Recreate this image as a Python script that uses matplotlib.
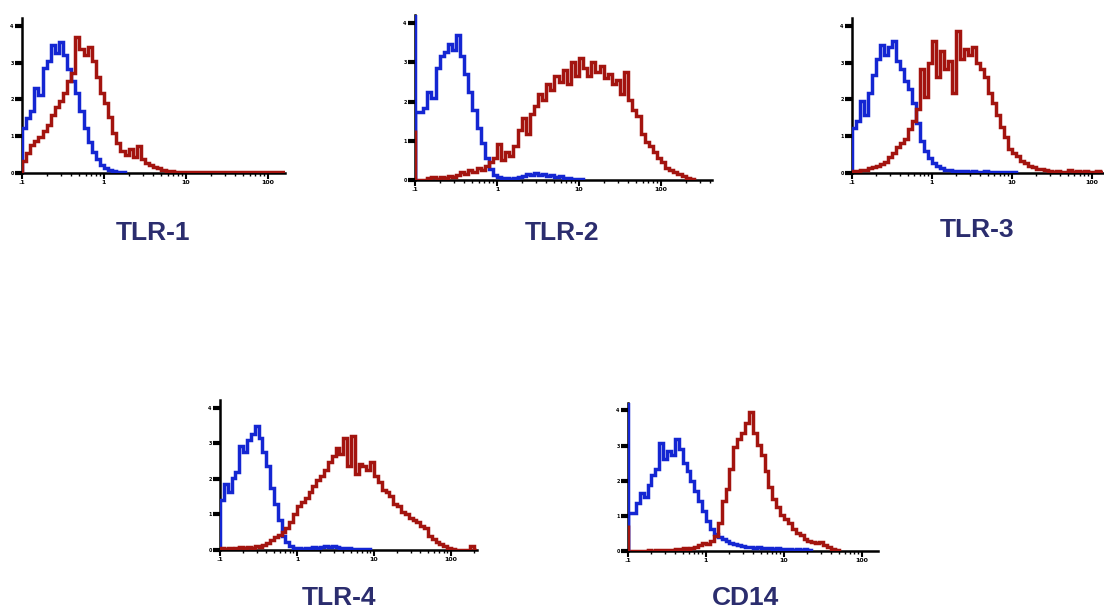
import numpy as np
import matplotlib
matplotlib.use("Agg")
import matplotlib.pyplot as plt

# flow histograms, counts per 0.05-decade bin starting at 0.1 (log10 = -1)
BIN = 0.05

tlr1_blue = [45, 55, 62, 85, 78, 105, 112, 128, 120, 131, 118, 104, 92, 80, 62, 45,
             31, 21, 14, 8, 5, 3, 2, 1, 1]
tlr1_red = [12, 20, 28, 32, 36, 42, 48, 58, 66, 72, 80, 92, 100, 136, 124, 118, 126,
            112, 96, 80, 70, 56, 40, 30, 22, 18, 24, 16, 27, 14, 10, 8, 6, 5, 3, 2, 2,
            1, 1, 1, 1, 1, 1, 1, 1, 1, 1, 1, 1, 1, 1, 1, 1, 1, 1, 1, 1, 1, 1, 1, 1, 1,
            1, 1]

tlr2_blue_overflow = 170
tlr2_red_overflow = 50
tlr2_blue = [68, 68, 72, 88, 82, 112, 124, 128, 136, 130, 145, 124, 106, 88, 70, 52,
             37, 22, 11, 5, 3, 2, 2, 1, 2, 3, 4, 6, 5, 7, 5, 6, 4, 5, 3, 4, 2, 2, 1, 1, 1]
tlr2_red = [0, 0, 0, 2, 3, 1, 3, 2, 4, 3, 5, 8, 6, 10, 8, 12, 10, 14, 18, 22, 36, 20,
            28, 24, 34, 50, 62, 46, 66, 74, 86, 80, 96, 90, 104, 98, 110, 96, 118, 104,
            122, 112, 104, 118, 108, 114, 102, 106, 96, 100, 86, 108, 80, 70, 64, 46,
            38, 34, 28, 22, 18, 12, 10, 8, 6, 4, 2, 1]

tlr3_blue = [45, 52, 72, 58, 80, 98, 114, 128, 118, 126, 132, 112, 104, 92, 84, 70,
             50, 32, 22, 15, 10, 7, 5, 3, 3, 2, 2, 2, 2, 1, 2, 1, 1, 2, 1, 1, 1, 1, 1,
             1, 1]
tlr3_red = [2, 2, 3, 3, 5, 6, 7, 9, 11, 16, 20, 26, 30, 34, 44, 52, 64, 104, 76, 110,
            132, 96, 122, 104, 112, 80, 142, 114, 124, 118, 126, 110, 104, 96, 80, 70,
            58, 46, 36, 24, 20, 17, 12, 10, 7, 6, 4, 4, 3, 2, 1, 2, 1, 1, 3, 1, 2, 1,
            2, 1, 1, 2, 1]

tlr4_blue = [50, 66, 58, 72, 78, 104, 98, 110, 116, 124, 112, 98, 84, 62, 46, 30, 14,
             8, 4, 2, 2, 1, 2, 2, 3, 2, 3, 4, 3, 4, 3, 2, 2, 2, 1, 1, 1, 1, 1]
tlr4_red = [2, 1, 2, 1, 2, 3, 2, 3, 2, 4, 3, 5, 7, 10, 13, 15, 18, 22, 28, 36, 44, 48,
            52, 58, 64, 70, 74, 80, 88, 94, 102, 96, 112, 84, 114, 76, 86, 84, 80, 88,
            74, 68, 60, 58, 54, 46, 44, 38, 36, 32, 30, 28, 24, 22, 14, 11, 8, 6, 4, 2,
            1, 0, 0, 0, 0, 4, 0]

cd14_blue_overflow = 160
cd14_red_overflow = 26
cd14_blue = [38, 38, 48, 58, 54, 66, 76, 82, 108, 92, 100, 96, 112, 102, 88, 80, 70,
             60, 50, 40, 30, 22, 17, 14, 12, 10, 8, 7, 6, 5, 4, 4, 3, 4, 3, 3, 3, 2, 3,
             2, 2, 2, 1, 2, 1, 2, 1]
cd14_red = [0, 0, 0, 0, 0, 1, 0, 1, 1, 1, 1, 1, 2, 2, 3, 2, 3, 4, 6, 8, 7, 10, 15, 28,
            50, 62, 82, 104, 112, 118, 128, 139, 118, 106, 96, 80, 64, 52, 44, 36, 32,
            28, 22, 18, 16, 12, 10, 9, 8, 9, 6, 4, 2, 1]

titles = ["TLR-1", "TLR-2", "TLR-3", "TLR-4", "CD14"]
xtick_labels = [".1", "1", "10", "100"]

BLUE = "#1426d2"
RED = "#a3140f"
NAVY = "#2b2d6e"

W, H = 1104, 609
fig = plt.figure(figsize=(W / 100, H / 100), dpi=100)

# panel boxes in pixels: left, baseline, top, right, px per decade
panels = [
    dict(box=(22, 173, 18, 285, 82), blue=tlr1_blue, red=tlr1_red, bo=None, ro=None,
         title_xy=(153, 233)),
    dict(box=(415, 180, 15, 712, 82), blue=tlr2_blue, red=tlr2_red,
         bo=tlr2_blue_overflow, ro=tlr2_red_overflow, title_xy=(562, 233)),
    dict(box=(852, 173, 18, 1103, 80), blue=tlr3_blue, red=tlr3_red, bo=None, ro=None,
         title_xy=(977, 230)),
    dict(box=(220, 550, 400, 477, 77), blue=tlr4_blue, red=tlr4_red, bo=None, ro=None,
         title_xy=(339, 598)),
    dict(box=(628, 551, 403, 878, 78), blue=cd14_blue, red=cd14_red,
         bo=cd14_blue_overflow, ro=cd14_red_overflow, title_xy=(745, 598)),
]

minor = np.concatenate([np.log10(np.arange(2, 10)) + k for k in range(-1, 3)])

for p, title in zip(panels, titles):
    left, base, top, right, dec = p["box"]
    ax = fig.add_axes([left / W, 1 - base / H, (right - left) / W, (base - top) / H])
    ymax = base - top
    xmax = -1 + (right - left) / dec

    for vals, col in [(p["blue"], BLUE), (p["red"], RED)]:
        edges = -1 + BIN * np.arange(len(vals) + 1)
        ax.stairs(vals, edges, color=col, linewidth=2.5)
    if p["bo"] is not None:
        ax.vlines(-1, 0, p["bo"], color=BLUE, linewidth=2.5)
        ax.vlines(-1, 0, p["ro"], color=RED, linewidth=2.5)

    ax.set_xlim(-1, xmax)
    ax.set_ylim(0, ymax)
    for s in ["top", "right"]:
        ax.spines[s].set_visible(False)
    for s in ["left", "bottom"]:
        ax.spines[s].set_linewidth(1.8)
        ax.spines[s].set_zorder(0.5)

    ax.set_xticks([-1, 0, 1, 2])
    ax.set_xticklabels(xtick_labels, fontsize=4.5, fontweight="bold")
    ax.set_xticks(minor[(minor > -1) & (minor < xmax)], minor=True)
    ax.tick_params(axis="x", which="major", length=4, width=1.5, pad=1)
    ax.tick_params(axis="x", which="minor", length=2.5, width=1)

    yt = np.linspace(0, ymax * 0.95, 5)
    ax.set_yticks(yt)
    ax.set_yticklabels(["0", "1", "2", "3", "4"], fontsize=3.5, fontweight="bold")
    ax.tick_params(axis="y", length=5, width=3, pad=1)

    fig.text(p["title_xy"][0] / W, 1 - p["title_xy"][1] / H, title,
             ha="center", va="center", fontsize=19, fontweight="bold",
             color=NAVY, family="Liberation Sans")

fig.savefig("out.png", dpi=100)
